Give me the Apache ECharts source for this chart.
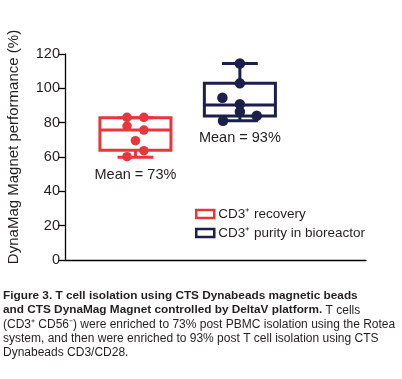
<!DOCTYPE html>
<html>
<head>
<meta charset="utf-8">
<script src="https://cdn.jsdelivr.net/npm/echarts@6/dist/echarts.min.js"></script>
<style>
  html, body { margin: 0; padding: 0; background: #fff; }
  #main { width: 402px; height: 379px; }
</style>
</head>
<body>
<div id="main"></div>
<script>
// data
const groupNames = ['CD3⁺ recovery', 'CD3⁺ purity in bioreactor'];
const recoveryPoints = [83.1, 83.1, 78, 75.7, 69.5, 63.7, 60.2];
const purityPoints = [114.5, 102.9, 94.5, 90.7, 86.4, 84, 81.1];
// box stats: min, q1, median, q3, max
const recoveryBox = [59.8, 64, 75.7, 82.9, 82.9];
const purityBox = [81.1, 83.9, 90.3, 102.9, 114.5];
const yTicks = [0, 20, 40, 60, 80, 100, 120];

// layout only
const groupX = [2.34, 5.81];
const recoveryJitter = [-0.28, 0.28, -0.28, 0.28, 0, 0.28, -0.28];
const purityJitter = [0, 0, -0.58, 0, 0, 0.56, -0.56];
const colors = ['#e8363c', '#1c1f4a'];
const font = "'Liberation Sans', Arial, Helvetica, sans-serif";

const mean = arr => arr.reduce((a, b) => a + b, 0) / arr.length;

function renderBox(params, api) {
  const x = api.value(0);
  const pMin = api.coord([x, api.value(1)]);
  const pQ1 = api.coord([x, api.value(2)]);
  const pMed = api.coord([x, api.value(3)]);
  const pQ3 = api.coord([x, api.value(4)]);
  const pMax = api.coord([x, api.value(5)]);
  const half = api.size([2.36, 0])[0] / 2;
  const cap = api.size([1.19, 0])[0] / 2;
  const cx = pMin[0];
  const color = colors[params.seriesIndex];
  const st = { stroke: color, lineWidth: 3, fill: null };
  const line = (x1, y1, x2, y2) => ({ type: 'line', shape: { x1, y1, x2, y2 }, style: st });
  const label = 'Mean = ' + Math.round(api.value(6)) + '%';
  return {
    type: 'group',
    children: [
      line(cx, pMax[1], cx, pQ3[1]),
      line(cx - cap, pMax[1], cx + cap, pMax[1]),
      line(cx, pQ1[1], cx, pMin[1]),
      line(cx - cap, pMin[1], cx + cap, pMin[1]),
      { type: 'rect', shape: { x: cx - half, y: pQ3[1], width: half * 2, height: pQ1[1] - pQ3[1] },
        style: { stroke: color, lineWidth: 3, fill: 'rgba(0,0,0,0)' } },
      line(cx - half, pMed[1], cx + half, pMed[1]),
      { type: 'text', x: cx, y: pMin[1] + 17.5,
        style: { text: label, fill: '#231f20', font: '14.5px ' + font, align: 'center', verticalAlign: 'middle' } }
    ]
  };
}

const boxes = [recoveryBox, purityBox];
const points = [recoveryPoints, purityPoints];
const jitters = [recoveryJitter, purityJitter];

const series = [];
groupNames.forEach((name, i) => {
  series.push({
    name: name,
    type: 'custom',
    renderItem: renderBox,
    z: 2,
    data: [[groupX[i]].concat(boxes[i], [mean(points[i])])],
    encode: { x: 0, y: [1, 2, 3, 4, 5] },
    silent: true
  });
});
groupNames.forEach((name, i) => {
  series.push({
    name: name,
    type: 'scatter',
    symbol: 'circle',
    symbolSize: i === 0 ? 9.5 : 10.5,
    itemStyle: { color: colors[i], opacity: 1 },
    z: 3,
    data: points[i].map((v, k) => [groupX[i] + jitters[i][k], v])
  });
});

const chart = echarts.init(document.getElementById('main'));
chart.setOption({
  animation: false,
  textStyle: { fontFamily: font },
  grid: { left: 65, right: 36, top: 54, bottom: 119, containLabel: false },
  xAxis: {
    type: 'value', min: 0, max: 10,
    axisLine: { show: true, onZero: false, lineStyle: { color: '#000', width: 1.3 } },
    axisTick: { show: false }, axisLabel: { show: false }, splitLine: { show: false }
  },
  yAxis: {
    type: 'value', min: yTicks[0], max: yTicks[yTicks.length - 1], interval: 20,
    axisLine: { show: true, lineStyle: { color: '#000', width: 1.3 } },
    axisTick: { show: true, length: 7, lineStyle: { color: '#000', width: 1.3 } },
    axisLabel: { color: '#231f20', fontSize: 14.5, margin: 5 },
    splitLine: { show: false }
  },
  legend: {
    orient: 'vertical', left: 195, top: 207, padding: 0,
    itemWidth: 18, itemHeight: 8, itemGap: 5,
    textStyle: { fontSize: 13.5, color: '#231f20', padding: [0, 0, 0, -1] },
    data: groupNames.map((n, i) => ({
      name: n, icon: 'rect',
      itemStyle: { color: '#fff', borderColor: colors[i], borderWidth: 2.5 }
    }))
  },
  graphic: [
    {
      type: 'text', x: 14, y: 147, rotation: Math.PI / 2,
      style: { text: 'DynaMag Magnet performance (%)', fill: '#231f20', font: '15px ' + font,
        align: 'center', verticalAlign: 'middle' }
    },
    {
      type: 'text', left: 3, top: 290,
      style: {
        text: '{b|Figure 3. T cell isolation using CTS Dynabeads magnetic beads}\n' +
          '{b|and CTS DynaMag Magnet controlled by DeltaV platform.}{r| T cells}\n' +
          '{r|(CD3⁺ CD56⁻) were enriched to 73% post PBMC isolation using the Rotea}\n' +
          '{r|system, and then were enriched to 93% post T cell isolation using CTS}\n' +
          '{r|Dynabeads CD3/CD28.}',
        rich: {
          b: { fontWeight: 'bold', fontSize: 11.8, lineHeight: 14.2, fill: '#231f20', fontFamily: font },
          r: { fontSize: 12, lineHeight: 14.2, fill: '#231f20', fontFamily: font }
        }
      }
    }
  ],
  series: series
});
</script>
</body>
</html>
